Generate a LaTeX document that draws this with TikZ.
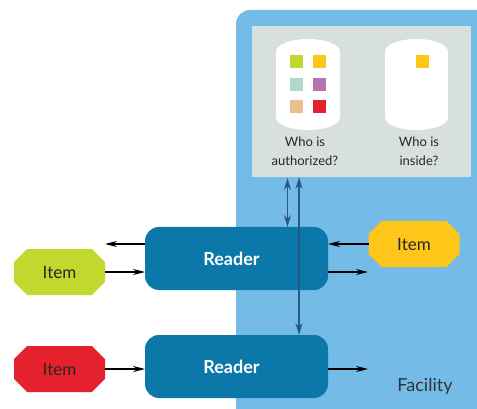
\documentclass[tikz,border=0pt]{standalone}
\usepackage{fontspec}
\setmainfont{Lato}
\usetikzlibrary{shapes.misc,arrows.meta,calc}
\definecolor{facblue}{HTML}{74BBE8}
\definecolor{panelgrey}{HTML}{D7E0DF}
\definecolor{readerblue}{HTML}{0B78A9}
\definecolor{linkblue}{HTML}{27597F}
\definecolor{itemgreen}{HTML}{C3D82F}
\definecolor{itemyellow}{HTML}{FFC61A}
\definecolor{itemred}{HTML}{E6212E}
\definecolor{sqmint}{HTML}{AEDACB}
\definecolor{sqpurple}{HTML}{B573AF}
\definecolor{sqtan}{HTML}{EBBF8F}
\tikzset{
  itembox/.style={chamfered rectangle,chamfered rectangle xsep=7pt,chamfered rectangle ysep=7pt,minimum width=91pt,minimum height=46pt,inner sep=0pt,outer sep=0pt,font=\fontsize{17}{17}\selectfont,text=black!85},
  readerbox/.style={rectangle,rounded corners=14pt,fill=readerblue,minimum width=183pt,minimum height=63pt,inner sep=0pt,outer sep=0pt,text=white,font=\fontsize{18}{18}\selectfont\bfseries},
  flow/.style={draw=black,line width=1.2pt,-{Stealth[length=12pt,width=6pt]}},
  link/.style={draw=linkblue,line width=1.3pt,{Stealth[length=12pt,width=7pt]}-{Stealth[length=12pt,width=7pt]}},
  sq/.style={minimum size=13pt,inner sep=0pt,outer sep=0pt},
  cyl/.style={fill=white},
  caption/.style={align=center,font=\fontsize{13}{19}\selectfont,text=black!85,inner sep=0pt}
}
\begin{document}
\begin{tikzpicture}[x=1pt,y=-1pt]
\useasboundingbox (0,0) rectangle (477,409);
\fill[facblue,rounded corners=14pt] (236,430) -- (236,10) -- (500,10) -- (500,430) -- cycle;
\node[fill=panelgrey,minimum width=219pt,minimum height=151pt,inner sep=0pt,outer sep=0pt] (panel) at (361.5,101.5) {};
% cylinders
\fill[cyl] (276,52) .. controls (276,44) and (292,39) .. (308,39) .. controls (324,39) and (340,44) .. (340,52) -- (340,117) .. controls (340,125) and (324,130) .. (308,130) .. controls (292,130) and (276,125) .. (276,117) -- cycle;
\fill[cyl] (385,52) .. controls (385,44) and (400,39) .. (416.5,39) .. controls (433,39) and (448,44) .. (448,52) -- (448,117) .. controls (448,125) and (433,130) .. (416.5,130) .. controls (400,130) and (385,125) .. (385,117) -- cycle;
\node[sq,fill=itemgreen] (s1) at (296,62) {};
\node[sq,fill=itemyellow] (s2) at (319,62) {};
\node[sq,fill=sqmint] (s3) at (296,85) {};
\node[sq,fill=sqpurple] (s4) at (319,85) {};
\node[sq,fill=sqtan] (s5) at (296,107) {};
\node[sq,fill=itemred] (s6) at (319,107) {};
\node[sq,fill=itemyellow] (s7) at (422,62) {};
\node[caption] (c1) at (305,151.5) {Who is\\authorized?};
\node[caption] (c2) at (419,151.5) {Who is\\inside?};
% readers
\node[readerbox] (r1) at (236.5,258.5) {Reader\hspace*{10pt}};
\node[readerbox] (r2) at (236.5,366.5) {Reader\hspace*{10pt}};
% items
\node[itembox,fill=itemgreen] (i1) at (59.5,272) {Item};
\node[itembox,fill=itemred] (i2) at (59.5,369) {Item};
\node[itembox,fill=itemyellow] (i3) at (414,244) {Item};
\coordinate (lfree) at (105,244);
\coordinate (rfree1) at (368,272);
\coordinate (rfree2) at (368,369);
\coordinate (a) at (287.5,178);
\coordinate (b) at (299,177);
% connectors
\draw[flow] (r1.west |- lfree) -- (lfree);
\draw[flow] (i1.east) -- (i1.east -| r1.west);
\draw[flow] (i2.east) -- (i2.east -| r2.west);
\draw[flow] (i3.west) -- (i3.west -| r1.east);
\draw[flow] (r1.east |- rfree1) -- (rfree1);
\draw[flow] (r2.east |- rfree2) -- (rfree2);
\draw[link] (a) -- (a |- r1.north);
\draw[link] (b) -- (b |- r2.north);
\node[font=\fontsize{18}{18}\selectfont,text=black!80,inner sep=0pt] (fac) at (425,386) {Facility};
\end{tikzpicture}
\end{document}
